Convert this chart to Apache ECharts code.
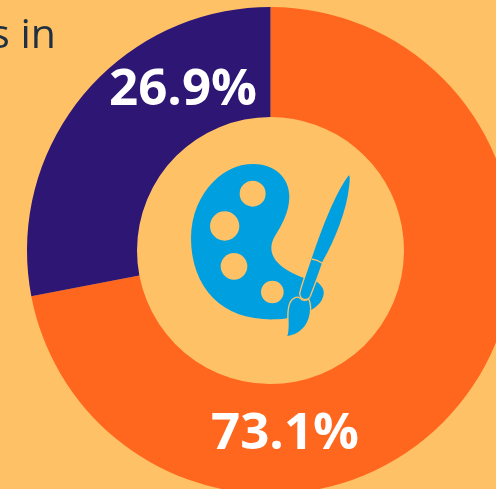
<!DOCTYPE html>
<html><head><meta charset="utf-8">
<style>html,body{margin:0;padding:0;background:#FFC166;overflow:hidden}#c{width:496px;height:489px}</style>
<script src="https://cdn.jsdelivr.net/npm/echarts@6/dist/echarts.min.js"></script>
</head><body><div id="c"></div>
<script>
const sliceNames = ['A', 'B'];
const sliceValues = [72, 28];            // wedge sizes as drawn in the picture
const sliceLabels = ['73.1%', '26.9%'];  // printed labels
const sliceColors = ['#FF671F', '#2E1675'];
const labelAnchors = [[285, 434], [183, 90]];
const titleFragment = 's in';
const BG = '#FFC166', BLUE = '#009FDF';

const chart = echarts.init(document.getElementById('c'), null, {renderer: 'canvas'});
const icon = (d, style) => ({
  type: 'path', x: 170, y: 150, scaleX: 1 / 3, scaleY: 1 / 3, silent: true,
  shape: {pathData: d},
  style: style || {fill: BLUE}
});
const hole = (cx, cy, r) => ({type: 'circle', silent: true,
  shape: {cx: 170 + cx / 3, cy: 150 + cy / 3, r: r / 3}, style: {fill: BG}});

chart.setOption({
  animation: false,
  backgroundColor: BG,
  series: [{
    type: 'pie', center: [270.5, 250.5], radius: [133.5, 243.5],
    startAngle: 90, clockwise: true, silent: true,
    data: sliceNames.map((n, i) => ({name: n, value: sliceValues[i], itemStyle: {color: sliceColors[i]}})),
    label: {
      show: true, position: 'inside', color: '#fff',
      fontFamily: 'Open Sans', fontWeight: 'bold', fontSize: 51,
      formatter: p => sliceLabels[p.dataIndex]
    },
    labelLine: {show: false},
    labelLayout: p => ({x: labelAnchors[p.dataIndex][0], y: labelAnchors[p.dataIndex][1], align: 'center', verticalAlign: 'middle'})
  }, {
    type: 'custom', coordinateSystem: 'none', silent: true, data: [0],
    renderItem: () => ({type: 'group', children: [
      icon('M250 42 C310 42 358 80 358 140 C358 185 335 225 315 258 C298 285 300 315 325 340 C345 360 375 375 405 385 L440 395 C455 405 463 418 461 432 C458 452 445 468 425 479 C395 495 350 508 315 508 C240 510 175 490 130 445 C85 400 63 335 63 265 C63 195 90 135 130 95 C165 60 205 42 250 42 Z'),
      hole(248, 131, 39), hole(164, 228, 44), hole(192, 349, 40), hole(307, 426, 34),
      icon('M535 74 C543 72 542 90 539 112 C532 180 498 268 458 338 C450 365 434 405 420 441 C412 453 392 451 389 432 C390 418 408 370 422 328 C448 250 493 130 535 74 Z',
        {fill: BLUE, stroke: BG, lineWidth: 4}),
      icon('M425 327 Q442 329 457 340', {fill: 'none', stroke: BG, lineWidth: 4}),
      icon('M349 561 C362 530 345 490 360 458 C368 442 382 438 390 444 C398 454 410 452 416 446 C426 470 425 510 398 538 C384 552 366 559 349 561 Z',
        {fill: BLUE, stroke: BG, lineWidth: 4})
    ]})
  }],
  graphic: [
    {type: 'text', silent: true, x: 56, y: 16, style: {text: titleFragment, fill: '#1F3040',
      font: '41px "Open Sans"', textAlign: 'right', verticalAlign: 'top'}}
  ]
});
</script></body></html>
